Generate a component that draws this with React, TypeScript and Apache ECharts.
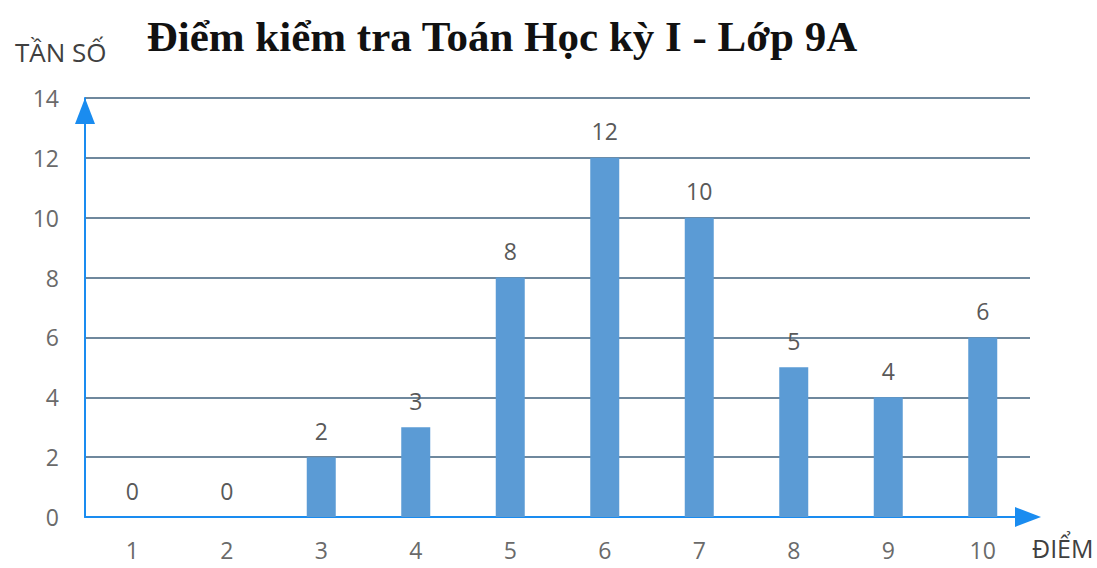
import React, { useEffect, useRef } from "react";
import * as echarts from "echarts";

const categories = ["1", "2", "3", "4", "5", "6", "7", "8", "9", "10"];
const frequencies = [0, 0, 2, 3, 8, 12, 10, 5, 4, 6];
const yTicks = { min: 0, max: 14, interval: 2 };

const titleText = "Điểm kiểm tra Toán Học kỳ I - Lớp 9A";
const yName = "TẦN SỐ";
const xName = "ĐIỂM";

export default function App() {
  const ref = useRef<HTMLDivElement>(null);
  useEffect(() => {
    if (!ref.current) return;
    const chart = echarts.init(ref.current, undefined, { renderer: "svg" });
    const axisBlue = "#1a8cf0";
    const labelFont = "'Open Sans', sans-serif";
    chart.setOption({
      animation: false,
      backgroundColor: "#ffffff",
      title: [
        {
          text: titleText,
          left: 497,
          top: 10,
          textAlign: "center",
          textStyle: {
            fontFamily: "'Liberation Serif', serif",
            fontWeight: "bold",
            fontSize: 43,
            color: "#111111",
          },
        },
        {
          text: yName,
          left: 10,
          top: 34,
          textStyle: {
            fontFamily: labelFont,
            fontWeight: "normal",
            fontSize: 26,
            color: "#404040",
          },
        },
        {
          text: xName,
          left: 1027,
          top: 530,
          textStyle: {
            fontFamily: labelFont,
            fontWeight: "normal",
            fontSize: 25,
            color: "#404040",
          },
        },
      ],
      grid: { left: 85, right: 67, top: 98, bottom: 51 },
      xAxis: {
        type: "category",
        data: categories,
        axisLine: {
          show: true,
          lineStyle: { color: axisBlue, width: 2 },
          symbol: ["none", "triangle"],
          symbolSize: [20, 26],
          symbolOffset: [0, -2],
        },
        axisTick: { show: false },
        axisLabel: {
          margin: 21,
          fontFamily: labelFont,
          fontSize: 23,
          color: "#6a6a6a",
        },
      },
      yAxis: {
        type: "value",
        min: yTicks.min,
        max: yTicks.max,
        interval: yTicks.interval,
        axisLine: {
          show: true,
          lineStyle: { color: axisBlue, width: 2 },
          symbol: ["none", "triangle"],
          symbolSize: [20, 26],
          symbolOffset: [0, -13],
        },
        axisTick: { show: false },
        axisLabel: {
          margin: 26,
          fontFamily: labelFont,
          fontSize: 23,
          color: "#6a6a6a",
        },
        splitLine: {
          show: true,
          lineStyle: { color: "#6f889d", width: 2 },
        },
      },
      series: [
        {
          type: "bar",
          data: frequencies,
          barWidth: 29,
          itemStyle: { color: "#5b9bd5" },
          label: {
            show: true,
            position: "top",
            distance: 15,
            fontFamily: labelFont,
            fontSize: 23,
            color: "#595959",
          },
        },
      ],
    });
    return () => chart.dispose();
  }, []);
  return (
    <div
      ref={ref}
      style={{ position: "fixed", left: 0, top: 0, width: 1097, height: 568 }}
    />
  );
}
